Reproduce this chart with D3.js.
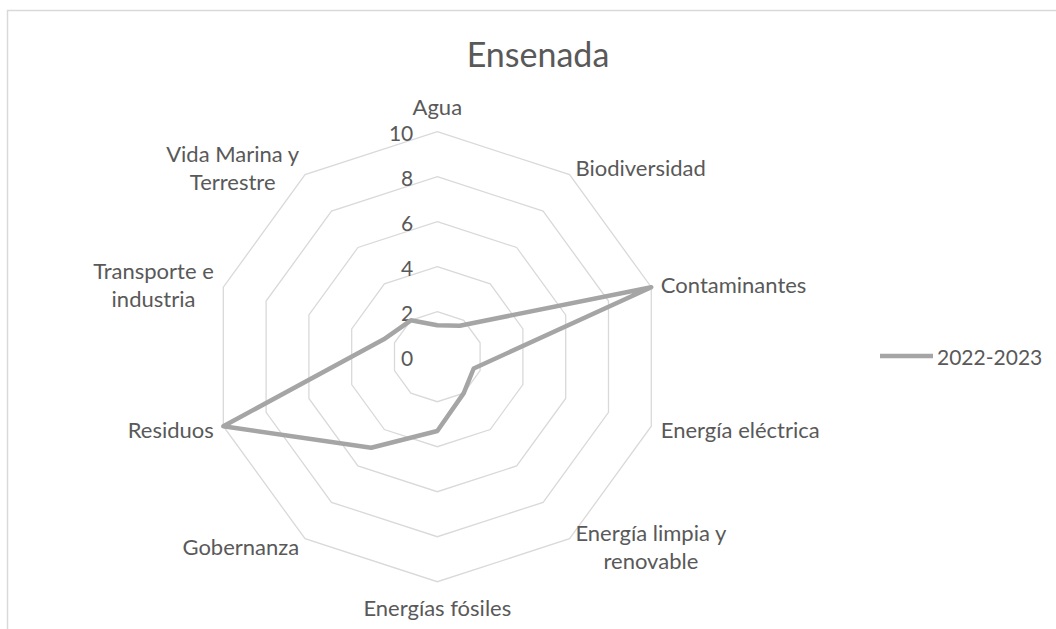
<!DOCTYPE html>
<html>
<head>
<meta charset="utf-8">
<script src="https://cdn.jsdelivr.net/npm/d3@7"></script>
<style>
  html, body { margin: 0; padding: 0; background: #fff; }
  svg { display: block; }
  text { font-family: Lato, "Open Sans", sans-serif; fill: #595959; }
</style>
</head>
<body>
<svg id="chart" width="1056" height="629"></svg>
<script>
const title = "Ensenada";
const categories = [
  "Agua", "Biodiversidad", "Contaminantes", "Energía eléctrica",
  "Energía limpia y\nrenovable", "Energías fósiles", "Gobernanza",
  "Residuos", "Transporte e\nindustria", "Vida Marina y\nTerrestre"
];
const seriesName = "2022-2023";
const values = [1.4, 1.7, 10, 1.7, 2.0, 3.3, 5.0, 10, 2.5, 2.0];
const tickValues = [0, 2, 4, 6, 8, 10];

const W = 1056, H = 629;
const cx = 437.3, cy = 356.7, R = 225;
const svg = d3.select("#chart");

// chart border
svg.append("rect")
  .attr("x", 7.5).attr("y", 10.5)
  .attr("width", W + 20).attr("height", H + 20)
  .attr("fill", "none").attr("stroke", "#d9d9d9").attr("stroke-width", 1.5);

const r = d3.scaleLinear().domain([0, 10]).range([0, R]);
const angle = d3.scaleLinear().domain([0, categories.length]).range([0, 2 * Math.PI]);

const g = svg.append("g").attr("transform", `translate(${cx},${cy})`);

// grid rings (polygons)
const ringLine = d3.lineRadial()
  .angle((d, i) => angle(i))
  .radius(d => r(d))
  .curve(d3.curveLinearClosed);

g.selectAll("path.ring")
  .data(tickValues.filter(t => t > 0))
  .join("path")
  .attr("class", "ring")
  .attr("d", t => ringLine(categories.map(() => t)))
  .attr("fill", "none")
  .attr("stroke", "#d9d9d9")
  .attr("stroke-width", 1.3);

// tick labels
g.selectAll("text.tick")
  .data(tickValues)
  .join("text")
  .attr("class", "tick")
  .attr("x", -24)
  .attr("y", t => -r(t) + 1)
  .attr("text-anchor", "end")
  .attr("dominant-baseline", "central")
  .style("font-size", "21px")
  .text(t => t);

// data line
const dataLine = d3.lineRadial()
  .angle((d, i) => angle(i))
  .radius(d => r(d))
  .curve(d3.curveLinearClosed);

g.append("path")
  .attr("d", dataLine(values))
  .attr("fill", "none")
  .attr("stroke", "#a5a5a5")
  .attr("stroke-width", 4.5)
  .attr("stroke-linejoin", "round");

// category labels
const fs = 22, lh = 28;
categories.forEach((c, i) => {
  const a = angle(i);
  const s = Math.sin(a), co = Math.cos(a);
  const vx = r(10) * s, vy = -r(10) * co;
  const lines = c.split("\n");
  const t = g.append("text").style("font-size", fs + "px").attr("text-anchor", "middle");
  lines.forEach((ln, k) => {
    t.append("tspan").attr("x", 0).attr("dy", k === 0 ? 0 : lh).text(ln);
  });
  // measure
  let maxW = 0;
  t.selectAll("tspan").each(function () { maxW = Math.max(maxW, this.getComputedTextLength()); });
  const blockH = (lines.length - 1) * lh;
  let centerX, centerY;
  if (Math.abs(s) < 0.1) {
    centerX = vx;
    const half = (lines.length * lh) / 2;
    centerY = co > 0 ? vy - 14 - 12 : vy + 13 + 12;
  } else {
    const gx = 10 * Math.abs(s);
    centerX = s > 0 ? vx + gx + maxW / 2 : vx - gx - maxW / 2;
    centerY = vy - co * 9;
  }
  t.attr("transform", `translate(${centerX},${centerY - blockH / 2})`)
   .attr("dominant-baseline", "central");
  t.selectAll("tspan").attr("dominant-baseline", "central");
});

// title
svg.append("text")
  .attr("x", 538).attr("y", 53)
  .attr("text-anchor", "middle")
  .attr("dominant-baseline", "central")
  .style("font-size", "34px")
  .text(title);

// legend
const lg = svg.append("g").attr("transform", "translate(880,356)");
lg.append("line").attr("x1", 0).attr("x2", 53).attr("y1", 0).attr("y2", 0)
  .attr("stroke", "#a5a5a5").attr("stroke-width", 4.5);
lg.append("text").attr("x", 57).attr("y", 0)
  .attr("dominant-baseline", "central")
  .style("font-size", "21px")
  .text(seriesName);
</script>
</body>
</html>
